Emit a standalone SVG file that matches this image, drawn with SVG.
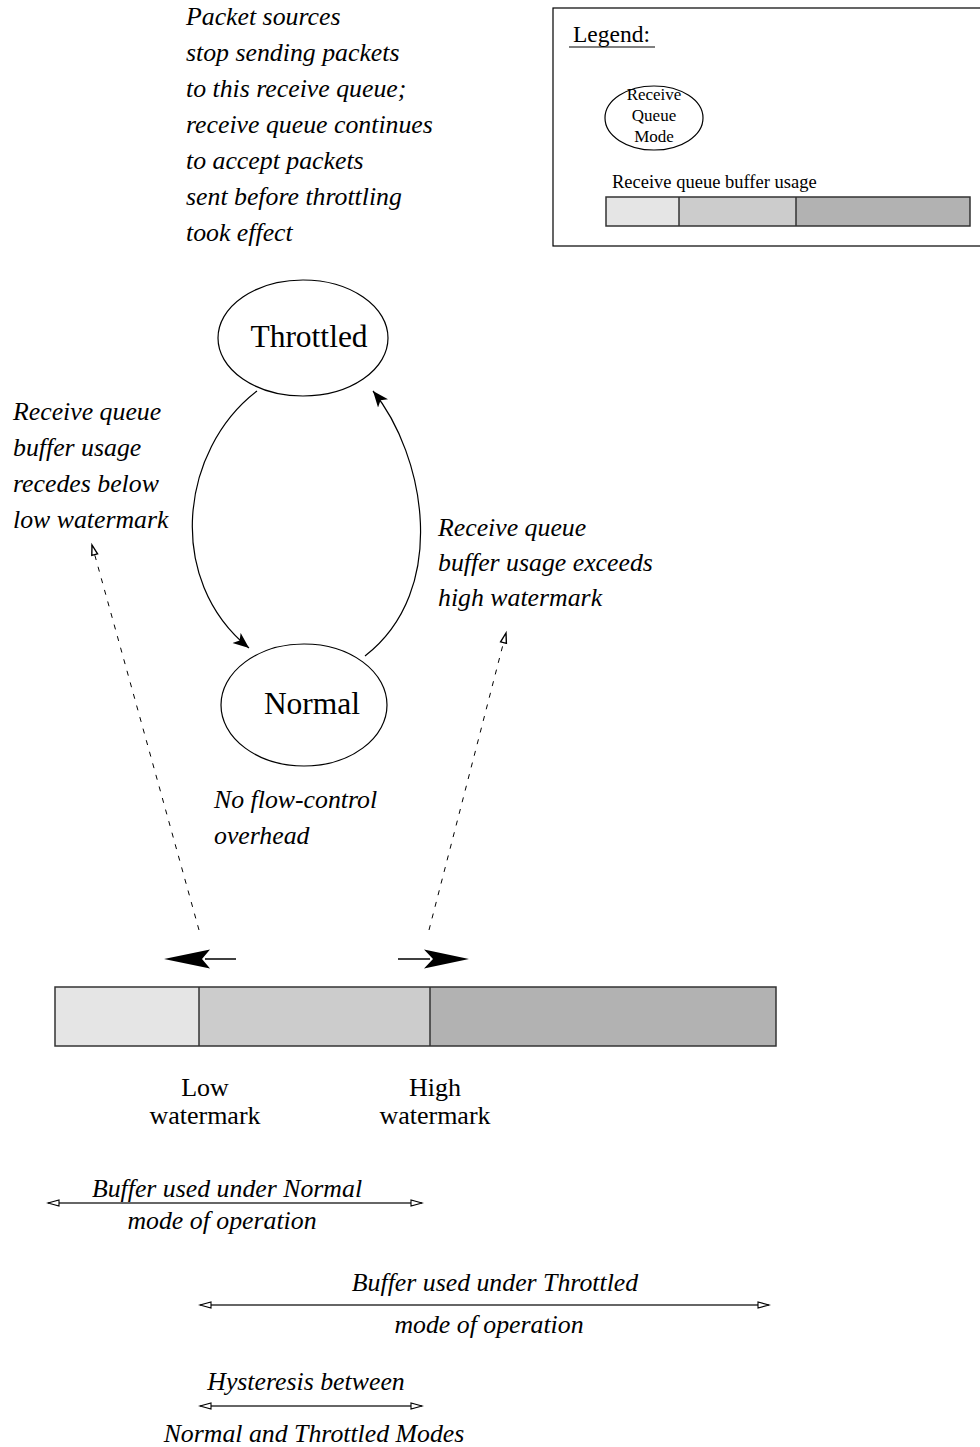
<svg xmlns="http://www.w3.org/2000/svg" width="980" height="1447" viewBox="0 0 980 1447">
  <style>
    .it { font-family: "Liberation Serif", "Times New Roman", serif; font-style: italic; font-size: 25.8px; fill: #000; }
    .rm { font-family: "Liberation Serif", "Times New Roman", serif; font-size: 26px; fill: #000; }
    .lg { font-family: "Liberation Serif", "Times New Roman", serif; font-size: 23.5px; fill: #000; }
    .lgs { font-family: "Liberation Serif", "Times New Roman", serif; font-size: 17px; fill: #000; text-anchor: middle; }
    .lgb { font-family: "Liberation Serif", "Times New Roman", serif; font-size: 18.5px; fill: #000; }
    .state { font-family: "Liberation Serif", "Times New Roman", serif; font-size: 31.5px; fill: #000; text-anchor: middle; }
    .mid-a { text-anchor: middle; }
    .node { fill: #fff; stroke: #000; stroke-width: 1.2; }
    .arc { fill: none; stroke: #000; stroke-width: 1.2; }
    .dash { fill: none; stroke: #000; stroke-width: 1; stroke-dasharray: 5 7; }
    .span { fill: none; stroke: #666; stroke-width: 2; }
    .seg { stroke: #333; stroke-width: 1.5; }
    .lo { fill: #e5e5e5; }
    .mid { fill: #cccccc; }
    .hi { fill: #b2b2b2; }
  </style>
  <defs>
    <marker id="solidHead" markerUnits="userSpaceOnUse" markerWidth="20" markerHeight="14" refX="16" refY="7" orient="auto">
      <path d="M16,7 L0,0.5 L4,7 L0,13.5 Z" fill="#000"/>
    </marker>
    <marker id="openTip" markerUnits="userSpaceOnUse" markerWidth="14" markerHeight="10" refX="11" refY="5" orient="auto">
      <path d="M11,5 L1,2 L1,8 Z" fill="#fff" stroke="#000" stroke-width="1.4"/>
    </marker>
    <marker id="spanHead" markerUnits="userSpaceOnUse" markerWidth="14" markerHeight="10" refX="12" refY="5" orient="auto-start-reverse">
      <path d="M12,5 L1,2 L1,8 Z" fill="#fff" stroke="#000" stroke-width="1.1"/>
    </marker>
  </defs>

  <!-- Legend -->
  <g id="legend">
    <rect x="553" y="8" width="440" height="238" fill="#fff" stroke="#000" stroke-width="1.2"/>
    <text class="lg" x="573" y="42">Legend:</text>
    <line x1="569" y1="47" x2="655" y2="47" stroke="#000" stroke-width="1"/>
    <ellipse class="node" cx="654" cy="118" rx="49" ry="32"/>
    <text class="lgs" x="654" y="100">Receive</text>
    <text class="lgs" x="654" y="121">Queue</text>
    <text class="lgs" x="654" y="142">Mode</text>
    <text class="lgb" x="612" y="188">Receive queue buffer usage</text>
    <rect class="lo" x="606" y="197" width="73" height="29"/>
    <rect class="mid" x="679" y="197" width="117" height="29"/>
    <rect class="hi" x="796" y="197" width="174" height="29"/>
    <rect x="606" y="197" width="364" height="29" fill="none" stroke="#333" stroke-width="1.5"/>
    <line class="seg" x1="679" y1="197" x2="679" y2="226"/>
    <line class="seg" x1="796" y1="197" x2="796" y2="226"/>
  </g>

  <!-- Throttled mode -->
  <g id="throttled">
    <text class="it" x="186" y="25">Packet sources</text>
    <text class="it" x="186" y="61">stop sending packets</text>
    <text class="it" x="186" y="97">to this receive queue;</text>
    <text class="it" x="186" y="133">receive queue continues</text>
    <text class="it" x="186" y="169">to accept packets</text>
    <text class="it" x="186" y="205">sent before throttling</text>
    <text class="it" x="186" y="241">took effect</text>
    <ellipse class="node" cx="303" cy="338" rx="85" ry="58"/>
    <text class="state" x="309" y="347">Throttled</text>
  </g>

  <!-- Normal mode -->
  <g id="normal">
    <ellipse class="node" cx="304" cy="705" rx="83" ry="61"/>
    <text class="state" x="312" y="714">Normal</text>
    <text class="it" x="214" y="808">No flow-control</text>
    <text class="it" x="214" y="844">overhead</text>
  </g>

  <!-- Transition labels -->
  <g id="label-low">
    <text class="it" x="13" y="420">Receive queue</text>
    <text class="it" x="13" y="456">buffer usage</text>
    <text class="it" x="13" y="492">recedes below</text>
    <text class="it" x="13" y="528">low watermark</text>
  </g>
  <g id="label-high">
    <text class="it" x="438" y="536">Receive queue</text>
    <text class="it" x="438" y="571">buffer usage exceeds</text>
    <text class="it" x="438" y="606">high watermark</text>
  </g>

  <!-- Buffer bar -->
  <g id="buffer">
    <rect class="lo" x="55" y="987" width="144" height="59"/>
    <rect class="mid" x="199" y="987" width="231" height="59"/>
    <rect class="hi" x="430" y="987" width="346" height="59"/>
    <rect x="55" y="987" width="721" height="59" fill="none" stroke="#333" stroke-width="1.5"/>
    <line class="seg" x1="199" y1="987" x2="199" y2="1046"/>
    <line class="seg" x1="430" y1="987" x2="430" y2="1046"/>
    <text class="rm mid-a" x="205" y="1096">Low</text>
    <text class="rm mid-a" x="205" y="1124">watermark</text>
    <text class="rm mid-a" x="435" y="1096">High</text>
    <text class="rm mid-a" x="435" y="1124">watermark</text>
  </g>

  <!-- Buffer ranges -->
  <g id="ranges">
    <text class="it mid-a" x="227" y="1197">Buffer used under Normal</text>
    <line class="span" x1="48" y1="1203" x2="422" y2="1203" marker-start="url(#spanHead)" marker-end="url(#spanHead)"/>
    <text class="it mid-a" x="222" y="1229">mode of operation</text>
    <text class="it mid-a" x="495" y="1291">Buffer used under Throttled</text>
    <line class="span" x1="200" y1="1305" x2="769" y2="1305" marker-start="url(#spanHead)" marker-end="url(#spanHead)"/>
    <text class="it mid-a" x="489" y="1333">mode of operation</text>
    <text class="it mid-a" x="306" y="1390">Hysteresis between</text>
    <line class="span" x1="200" y1="1406" x2="422" y2="1406" marker-start="url(#spanHead)" marker-end="url(#spanHead)"/>
    <text class="it mid-a" x="314" y="1442">Normal and Throttled Modes</text>
  </g>

  <!-- Connectors -->
  <g id="connectors">
    <path class="arc" d="M257,391 C180,450 165,580 249,648" marker-end="url(#solidHead)"/>
    <path class="arc" d="M365,656 C450,590 425,455 373,391" marker-end="url(#solidHead)"/>
    <path class="dash" d="M199,930 L92,545" marker-end="url(#openTip)"/>
    <path class="dash" d="M429,930 L506,633" marker-end="url(#openTip)"/>
    <!-- watermark movement arrows -->
    <line x1="236" y1="959" x2="205" y2="959" stroke="#000" stroke-width="1.5"/>
    <path d="M164,959 L210,949.5 L202,959 L210,968.5 Z" fill="#000"/>
    <line x1="398" y1="959" x2="430" y2="959" stroke="#000" stroke-width="1.5"/>
    <path d="M469,959 L424,949.5 L433,959 L424,968.5 Z" fill="#000"/>
  </g>
</svg>
